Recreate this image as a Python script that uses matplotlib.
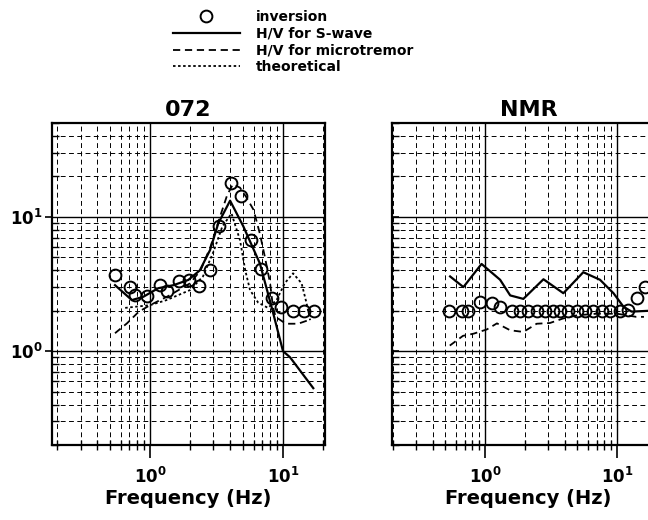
import math
import matplotlib
matplotlib.use("Agg")
import matplotlib.pyplot as plt
from matplotlib.ticker import LogLocator, NullFormatter, FuncFormatter

plt.rcParams['font.family'] = ['DejaVu Sans']
plt.rcParams['font.weight'] = 'bold'
plt.rcParams['mathtext.fontset'] = 'dejavusans'

# station 072
f_inv_072 = [0.545, 0.707, 0.77, 0.944, 1.19, 1.33, 1.65, 1.97, 2.35, 2.83, 3.3,
             4.04, 4.83, 5.7, 6.8, 8.2, 9.7, 11.9, 14.4, 17.1]
v_inv_072 = [3.69, 3.02, 2.62, 2.57, 3.11, 2.80, 3.33, 3.39, 3.06, 4.02, 8.6,
             18.0, 14.3, 6.7, 4.1, 2.5, 2.14, 2.0, 2.0, 2.0]

f_sw_072 = [0.545, 0.73, 0.89, 1.15, 1.5, 1.94, 2.37, 2.83, 3.26, 4.0, 5.03, 6.7,
            8.2, 10.0, 11.3, 16.9]
v_sw_072 = [3.1, 2.4, 2.54, 2.94, 3.1, 3.39, 4.0, 5.67, 8.95, 13.2, 8.5, 4.5,
            2.14, 1.0, 0.9, 0.53]

f_mt_072 = [0.545, 0.67, 0.82, 1.0, 1.4, 2.0, 2.4, 2.85, 3.3, 3.8, 4.2, 4.75,
            5.3, 6.0, 6.7, 7.3, 8.0, 8.4, 8.8, 10.5, 13.0, 15.5]
v_mt_072 = [1.36, 1.61, 1.96, 2.2, 2.6, 3.2, 4.0, 6.0, 9.5, 14.5, 17.5, 16.5,
            14.0, 11.3, 7.5, 5.05, 3.2, 2.14, 1.8, 1.6, 1.6, 1.7]

f_th_072 = [0.65, 1.0, 1.33, 2.0, 2.5, 3.0, 3.5, 4.1, 4.75, 5.2, 5.65, 6.5, 7.7,
            8.95, 10.3, 11.9, 13.8, 15.0, 16.0]
v_th_072 = [2.1, 2.2, 2.4, 2.85, 3.6, 5.5, 8.5, 10.6, 6.7, 4.0, 2.85, 2.3, 2.1,
            2.4, 3.2, 3.8, 3.2, 2.3, 1.7]

# station NMR
f_inv_nmr = [0.537, 0.666, 0.747, 0.917, 1.124, 1.30, 1.59, 1.84, 2.13, 2.46,
             2.85, 3.29, 3.70, 4.28, 4.95, 5.72, 6.61, 7.66, 8.85, 10.5, 12.2,
             14.1, 16.3]
v_inv_nmr = [2.0, 2.0, 2.0, 2.33, 2.30, 2.14, 2.0, 2.0, 2.0, 2.0, 2.0, 2.0, 2.0,
             2.0, 2.0, 2.0, 2.0, 2.0, 2.0, 2.0, 2.02, 2.47, 3.02]

f_sw_nmr = [0.543, 0.685, 0.94, 1.3, 1.55, 1.95, 2.77, 3.92, 5.55, 7.43, 9.4,
            11.2, 12.9, 18.0]
v_sw_nmr = [3.6, 3.0, 4.46, 3.4, 2.6, 2.45, 3.43, 2.7, 3.87, 3.4, 2.7, 2.14,
            1.97, 2.0]

f_mt_nmr = [0.54, 0.68, 0.82, 1.03, 1.23, 1.55, 1.95, 2.46, 3.1, 3.9, 5.0, 7.0,
            10.0, 14.0, 16.0]
v_mt_nmr = [1.1, 1.3, 1.35, 1.45, 1.61, 1.43, 1.39, 1.6, 1.62, 1.75, 1.85, 1.9,
            1.9, 1.8, 1.8]

legend_labels = ['inversion', 'H/V for S-wave', 'H/V for microtremor', 'theoretical']

W, H = 648, 520
fig = plt.figure(figsize=(W / 100, H / 100), dpi=100)

ax1 = fig.add_axes([52 / W, 1 - 445 / H, 273 / W, 322 / H])
ax2 = fig.add_axes([392 / W, 1 - 445 / H, 273 / W, 322 / H])

dash_mt = (0, (4, 2.6))
dash_th = (0, (1.4, 1.4))


def pow_label(v, pos):
    return r'$\mathbf{10^{%d}}$' % round(math.log10(v))


def style_axes(ax, title, xlim, ylabels):
    ax.set_xscale('log')
    ax.set_yscale('log')
    ax.set_xlim(*xlim)
    ax.set_ylim(0.2, 50)
    for axis in (ax.xaxis, ax.yaxis):
        axis.set_major_locator(LogLocator(base=10))
        axis.set_minor_locator(LogLocator(base=10, subs=range(2, 10)))
        axis.set_minor_formatter(NullFormatter())
        axis.set_major_formatter(FuncFormatter(pow_label))
    ax.grid(which='major', color='k', lw=1.0, ls='-')
    ax.grid(which='minor', color='k', lw=0.7, ls=(0, (5, 3.5)))
    ax.set_axisbelow(True)
    for s in ax.spines.values():
        s.set_linewidth(1.6)
    ax.tick_params(which='both', top=False, right=False, colors='k')
    ax.tick_params(axis='x', which='major', direction='out', length=9, width=1.2,
                   pad=7, labelsize=12)
    ax.tick_params(axis='x', which='minor', direction='inout', length=7, width=1.0)
    ax.tick_params(axis='y', which='major', direction='out' if ylabels else 'in',
                   length=5, width=1.2, pad=1.5, labelsize=12)
    ax.tick_params(axis='y', which='minor', direction='in', length=5, width=1.0)
    if not ylabels:
        ax.tick_params(axis='y', labelleft=False)
    ax.set_title(title, fontsize=16, fontweight='bold', pad=5)
    ax.set_xlabel('Frequency (Hz)', fontsize=14, fontweight='bold', labelpad=1)


style_axes(ax1, '072', (0.183, 20.7), True)
style_axes(ax2, 'NMR', (0.197, 23.1), False)

marker_kw = dict(ls='none', marker='o', ms=8.5, mfc='none', mec='k', mew=1.4, zorder=5)

ax1.plot(f_sw_072, v_sw_072, color='k', lw=1.6, zorder=3)
ax1.plot(f_mt_072, v_mt_072, color='k', lw=1.3, ls=dash_mt, zorder=3)
ax1.plot(f_th_072, v_th_072, color='k', lw=1.3, ls=dash_th, zorder=3)
ax1.plot(f_inv_072, v_inv_072, **marker_kw)

h_sw, = ax2.plot(f_sw_nmr, v_sw_nmr, color='k', lw=1.6, zorder=3)
h_mt, = ax2.plot(f_mt_nmr, v_mt_nmr, color='k', lw=1.3, ls=dash_mt, zorder=3)
h_inv, = ax2.plot(f_inv_nmr, v_inv_nmr, **marker_kw)
h_th, = ax1.plot([], [], color='k', lw=1.3, ls=dash_th)

fig.legend([h_inv, h_sw, h_mt, h_th], legend_labels,
           loc='upper left', bbox_to_anchor=(173 / W, 1 - 10 / H),
           frameon=False, borderpad=0, borderaxespad=0,
           handlelength=4.8, handletextpad=1.2, labelspacing=0.2,
           prop={'weight': 'bold', 'size': 10})

fig.savefig('out.png', dpi=100)
